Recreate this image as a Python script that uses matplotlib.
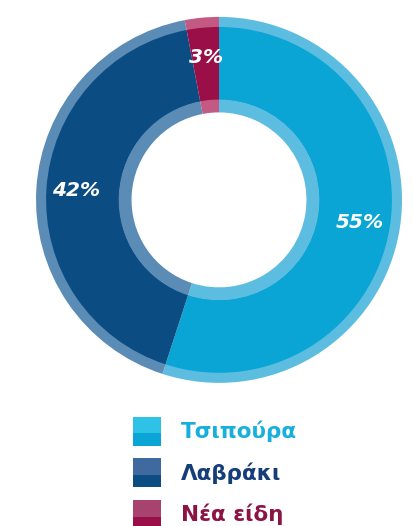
import matplotlib
matplotlib.use("Agg")
import matplotlib.pyplot as plt
from matplotlib.patches import Rectangle
from matplotlib.legend_handler import HandlerBase
import numpy as np

categories = ["Τσιπούρα", "Λαβράκι", "Νέα είδη"]
values = [55, 42, 3]
labels = ["55%", "42%", "3%"]
main_colors = ["#0aa5d5", "#0b4c82", "#9a0f47"]
rim_colors = ["#5cbde0", "#5a8cb6", "#c25a83"]
legend_top_colors = ["#2ec2e6", "#3f6aa0", "#a8436f"]
text_colors = ["#18afdc", "#143d79", "#8c1445"]

fig = plt.figure(figsize=(4.14, 5.26), dpi=100)
ax = fig.add_axes([0.087, 0.272, 0.884, 0.696])

# outer rim
ax.pie(values, radius=1.0, startangle=90, counterclock=False,
       colors=rim_colors, wedgeprops=dict(width=0.06, linewidth=0))
# main ring
wedges, _ = ax.pie(values, radius=0.945, startangle=90, counterclock=False,
                   colors=main_colors, wedgeprops=dict(width=0.40, linewidth=0))
# inner rim
ax.pie(values, radius=0.548, startangle=90, counterclock=False,
       colors=rim_colors, wedgeprops=dict(width=0.07, linewidth=0))

# labels
total = sum(values)
ang = 90.0
for v, lab in zip(values, labels):
    mid = ang - v / total * 360 / 2
    ang -= v / total * 360
    r = 0.78
    ax.text(r * np.cos(np.radians(mid)), r * np.sin(np.radians(mid)), lab,
            color="white", fontsize=14.5, fontweight="bold", style="italic",
            ha="center", va="center")

ax.set_xlim(-1, 1)
ax.set_ylim(-1, 1)
ax.set_aspect("equal")
ax.axis("off")


class TwoTone(HandlerBase):
    def __init__(self, top, bottom):
        super().__init__()
        self.top = top
        self.bottom = bottom

    def create_artists(self, legend, orig_handle, xdescent, ydescent, width,
                       height, fontsize, trans):
        i = wedges.index(orig_handle)
        lo = Rectangle((-xdescent, -ydescent), width, height * 0.42,
                       facecolor=self.bottom[i], linewidth=0, transform=trans)
        hi = Rectangle((-xdescent, -ydescent + height * 0.42), width,
                       height * 0.58, facecolor=self.top[i], linewidth=0,
                       transform=trans)
        return [lo, hi]


handler = TwoTone(legend_top_colors, main_colors)
leg = fig.legend(wedges, categories, loc="upper left",
                 bbox_to_anchor=(0.322, 0.208), frameon=False,
                 prop=dict(family="DejaVu Sans", size=15.5, weight="bold"),
                 handlelength=1.3, handleheight=1.7, handletextpad=0.9,
                 labelspacing=0.58, borderpad=0, borderaxespad=0,
                 handler_map={w: handler for w in wedges})
for t, c in zip(leg.get_texts(), text_colors):
    t.set_color(c)

fig.savefig("out.png", dpi=100, facecolor="white")
